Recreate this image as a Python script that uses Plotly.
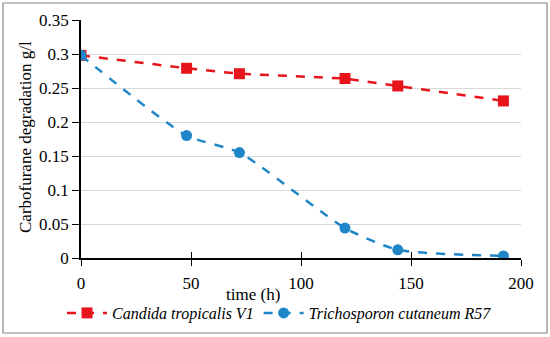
import plotly.graph_objects as go

time_h = [0, 48, 72, 120, 144, 192]
candida = [0.298, 0.279, 0.271, 0.264, 0.253, 0.231]
tricho = [0.298, 0.180, 0.155, 0.044, 0.012, 0.003]
x_ticks = [0, 50, 100, 150, 200]
y_ticks = [0, 0.05, 0.1, 0.15, 0.2, 0.25, 0.3, 0.35]
y_tick_text = ["0", "0.05", "0.1", "0.15", "0.2", "0.25", "0.3", "0.35"]

FF = "Liberation Serif, DejaVu Serif, serif"

def f(size):
    return dict(family=FF, size=size, color="black")

fig = go.Figure()
fig.add_trace(go.Scatter(
    x=time_h, y=candida, mode="lines+markers",
    name="<i>Candida tropicalis V1</i>",
    line=dict(color="#E8141B", width=2.5, dash="dash"),
    marker=dict(symbol="square", size=11, color="#E8141B"),
))
fig.add_trace(go.Scatter(
    x=time_h, y=tricho, mode="lines+markers",
    name="<i>Trichosporon cutaneum R57</i>",
    line=dict(color="#1F86C8", width=2.5, dash="dash", shape="spline", smoothing=0.6),
    marker=dict(symbol="circle", size=11, color="#1F86C8"),
))
# helper trace for the upper half of the crossing x ticks
fig.add_trace(go.Scatter(x=[x_ticks[0], x_ticks[-1]], y=[None, None], xaxis="x2",
                         showlegend=False, hoverinfo="skip"))

W, H = 550, 337
l, r, t, b = 81, 29, 20, 79
pw, ph = W - l - r, H - t - b

def px_to_paper_x(px):
    return (px - l) / pw

def px_to_paper_y(py):
    return (H - b - py) / ph

fig.add_shape(type="rect", xref="paper", yref="paper",
              x0=px_to_paper_x(3), x1=px_to_paper_x(547),
              y0=px_to_paper_y(333), y1=px_to_paper_y(3),
              line=dict(color="#888888", width=1.2), fillcolor="rgba(0,0,0,0)", layer="below")

fig.add_annotation(text="time (h)", xref="paper", yref="paper",
                   x=px_to_paper_x(253), y=px_to_paper_y(294),
                   xanchor="center", yanchor="middle", showarrow=False, font=f(17))
fig.add_annotation(text="Carbofurane degradation g/l", xref="paper", yref="paper",
                   x=px_to_paper_x(25), y=px_to_paper_y(137), textangle=-90,
                   xanchor="center", yanchor="middle", showarrow=False, font=f(17))

fig.update_layout(
    width=W, height=H,
    margin=dict(l=l, r=r, t=t, b=b, autoexpand=False),
    paper_bgcolor="white", plot_bgcolor="white",
    font=f(17),
    showlegend=True,
    legend=dict(orientation="h", x=px_to_paper_x(62), xanchor="left",
                y=px_to_paper_y(313), yanchor="middle",
                font=f(16), bgcolor="rgba(0,0,0,0)", itemwidth=40),
    xaxis=dict(
        range=[0, 200], tickvals=x_ticks, showgrid=False, zeroline=False,
        showline=True, linecolor="black", linewidth=1.5,
        ticks="outside", ticklen=6, tickcolor="black", tickwidth=1.2,
        tickfont=f(17), automargin=False, ticklabelstandoff=3,
    ),
    xaxis2=dict(
        range=[0, 200], tickvals=x_ticks, overlaying="x", side="bottom",
        showgrid=False, zeroline=False, showline=False, showticklabels=False,
        ticks="inside", ticklen=6, tickcolor="black", tickwidth=1.2, automargin=False,
    ),
    yaxis=dict(
        range=[0, 0.35], tickvals=y_ticks, ticktext=y_tick_text,
        showgrid=True, gridcolor="#D9D9D9", gridwidth=1, zeroline=False,
        showline=True, linecolor="black", linewidth=1.5,
        ticks="outside", ticklen=7, tickcolor="black", tickwidth=1.2,
        tickfont=f(17), automargin=False,
    ),
)

fig.write_html("out.html", config={"displayModeBar": False},
               post_script="document.body.style.margin='0';")
